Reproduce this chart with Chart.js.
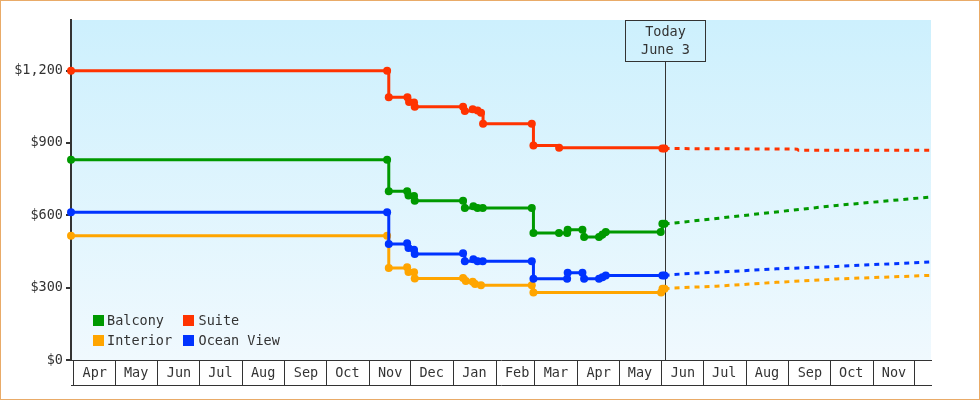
<!DOCTYPE html>
<html>
<head>
<meta charset="utf-8">
<script src="https://cdn.jsdelivr.net/npm/chart.js@4.4.1/dist/chart.umd.min.js"></script>
<style>
html,body{margin:0;padding:0;background:#fff;}
#wrap{position:relative;width:980px;height:400px;}
#frame{position:absolute;left:0;top:0;width:980px;height:400px;box-sizing:border-box;border:1px solid #e9ab68;pointer-events:none;}
canvas{display:block;}
</style>
</head>
<body>
<div id="wrap"><canvas id="c" width="980" height="400"></canvas><div id="frame"></div></div>
<script>
// Days counted from April 1 of the first year shown
const monthLabels = ['Apr','May','Jun','Jul','Aug','Sep','Oct','Nov','Dec','Jan','Feb','Mar','Apr','May','Jun','Jul','Aug','Sep','Oct','Nov',''];
const monthStartDays = [0,30,61,91,122,153,183,214,244,275,306,334,365,395,426,456,487,518,548,579,609];
const yTicks = [0,300,600,900,1200];
const todayDay = 428;
const todayLabel = ['Today','June 3'];
const legendEntries = ['Balcony','Suite','Interior','Ocean View'];

const suiteDays   = [-2,227,228.2,241.7,242.9,246.5,247,282,283.3,289,292.5,295,296.5,331.8,333,351.6,426.4,428];
const suitePrices = [1200,1200,1090,1090,1070,1068,1050,1050,1033,1040,1035,1025,980,980,890,880,877,877];

const balconyDays   = [-2,227,228.2,241.5,242.5,246.5,247,282,283.3,289.5,292.5,296.3,331.8,333,351.5,357.4,357.8,368.5,369.7,380.5,383,385.4,425.2,426.4,428];
const balconyPrices = [830,830,700,700,682,680,660,660,630,638,630,630,630,527,527,527,540,540,510,510,520,531,531,565,565];

const oceanDays   = [-2,227,228.2,241.5,242.5,246.5,247,282,283.3,289.5,292.5,296.3,331.8,333,357.4,357.8,368.5,369.7,380.5,383,385.4,426.4,428];
const oceanPrices = [613,613,481,484,464,457,440,443,410,418,410,410,410,337,337,362,362,337,337,343,350,350,350];

const interiorDays   = [-2,227,228.2,241.5,242.5,246.5,247,282,284,289,290.7,295,331.8,333,425.5,426.5,428];
const interiorPrices = [515,515,382,385,365,364,338,340,328,325,315,310,310,280,280,295,295];

const forecastDays         = [428,435,465.5,509,552.5,621];
const balconyForecast      = [565,568,587,614,641,676];
const oceanForecast        = [350,355,364,378,388,407];
const interiorForecast     = [295,299,306,322,336,351];
const suiteForecastDays    = [428,524,525,621];
const suiteForecast        = [877,874.5,870,870];

const colors = {Suite:'#ff3300', Balcony:'#009900', 'Ocean View':'#0033ff', Interior:'#ffa500'};

function pts(xs, ys){ return xs.map((x,i)=>({x:x, y:ys[i]})); }
function hist(label, xs, ys){
  return {label:label, data:pts(xs,ys), borderColor:colors[label], backgroundColor:colors[label],
    borderWidth:3, stepped:true, pointRadius:4, pointHoverRadius:4, pointBorderWidth:0, pointStyle:'circle', clip:false};
}
function fc(label, xs, ys){
  return {label:label+' forecast', data:pts(xs,ys), borderColor:colors[label], backgroundColor:colors[label],
    borderWidth:3, borderDash:[5,5], pointRadius:0, pointHoverRadius:0, stepped:false};
}

const FONT = "'DejaVu Sans Mono', monospace";
Chart.defaults.font.family = FONT;
Chart.defaults.font.size = 13.5;
Chart.defaults.color = '#333';

const bgPlugin = {
  id:'bgGrad',
  beforeDraw(chart){
    const {ctx, chartArea:a} = chart;
    const g = ctx.createLinearGradient(0,a.top,0,a.bottom);
    g.addColorStop(0,'#cdf0fd');
    g.addColorStop(1,'#f0f9fe');
    ctx.save(); ctx.fillStyle = g; ctx.fillRect(a.left,a.top,a.right-a.left,a.bottom-a.top); ctx.restore();
  }
};

const todayPlugin = {
  id:'today',
  beforeDatasetsDraw(chart){
    const {ctx, chartArea:a} = chart;
    const x = Math.round(chart.scales.x.getPixelForValue(todayDay)) + 0.5;
    const w = 80, h = 41;
    ctx.save();
    ctx.strokeStyle = '#333'; ctx.lineWidth = 1;
    ctx.strokeRect(x - w/2, a.top + 0.5, w, h);
    ctx.beginPath(); ctx.moveTo(x, a.top + 0.5 + h); ctx.lineTo(x, a.bottom); ctx.stroke();
    ctx.fillStyle = '#333'; ctx.font = '13.5px ' + FONT; ctx.textAlign = 'center'; ctx.textBaseline = 'middle';
    ctx.fillText(todayLabel[0], x, a.top + 12);
    ctx.fillText(todayLabel[1], x, a.top + 30);
    ctx.restore();
  }
};

const legendPlugin = {
  id:'cornerLegend',
  afterDatasetsDraw(chart){
    const {ctx, chartArea:a} = chart;
    ctx.save();
    ctx.font = '13.5px ' + FONT; ctx.textAlign = 'left'; ctx.textBaseline = 'middle';
    legendEntries.forEach((name,i)=>{
      const ds = chart.data.datasets.find(d=>d.label===name);
      const col = i % 2, row = Math.floor(i/2);
      const bx = a.left + 22 + col*90, by = a.bottom - 45 + row*20;
      ctx.fillStyle = ds.borderColor; ctx.fillRect(bx, by, 11, 11);
      ctx.fillStyle = '#333'; ctx.fillText(name, bx + 14 + col*1.5, by + 6);
    });
    ctx.restore();
  }
};

new Chart(document.getElementById('c'), {
  type:'line',
  data:{datasets:[
    hist('Suite', suiteDays, suitePrices),
    hist('Balcony', balconyDays, balconyPrices),
    hist('Ocean View', oceanDays, oceanPrices),
    hist('Interior', interiorDays, interiorPrices),
    fc('Suite', suiteForecastDays, suiteForecast),
    fc('Balcony', forecastDays, balconyForecast),
    fc('Ocean View', forecastDays, oceanForecast),
    fc('Interior', forecastDays, interiorForecast)
  ]},
  options:{
    responsive:false, animation:false, devicePixelRatio:1,
    layout:{padding:{left:0, top:20, right:49, bottom:15}},
    plugins:{legend:{display:false}, tooltip:{enabled:false}},
    scales:{
      x:{
        type:'linear', position:'bottom', min:-2, max:621,
        afterBuildTicks:s=>{ s.ticks = monthStartDays.map(v=>({value:v})); },
        afterFit:s=>{ s.height = 25; },
        ticks:{autoSkip:false, maxRotation:0, minRotation:0, padding:-20, labelOffset:21, color:'#333',
          callback:(v,i)=>monthLabels[i]},
        grid:{drawOnChartArea:false, drawTicks:true, tickLength:25, color:'#333', lineWidth:1},
        border:{display:true, color:'#333', width:1}
      },
      x2:{
        type:'linear', position:'bottom', min:-2, max:621,
        ticks:{display:false},
        grid:{display:false, drawTicks:false},
        border:{display:true, color:'#333', width:1}
      },
      y:{
        type:'linear', min:0, max:1410,
        afterBuildTicks:s=>{ s.ticks = yTicks.map(v=>({value:v})); },
        afterFit:s=>{ s.width = 71; },
        ticks:{padding:3, color:'#333', callback:v=>'$' + v.toLocaleString('en-US')},
        grid:{drawOnChartArea:false, drawTicks:true, tickLength:5, color:'#333', lineWidth:2},
        border:{display:true, color:'#333', width:2}
      }
    }
  },
  plugins:[bgPlugin, todayPlugin, legendPlugin]
});
</script>
</body>
</html>
